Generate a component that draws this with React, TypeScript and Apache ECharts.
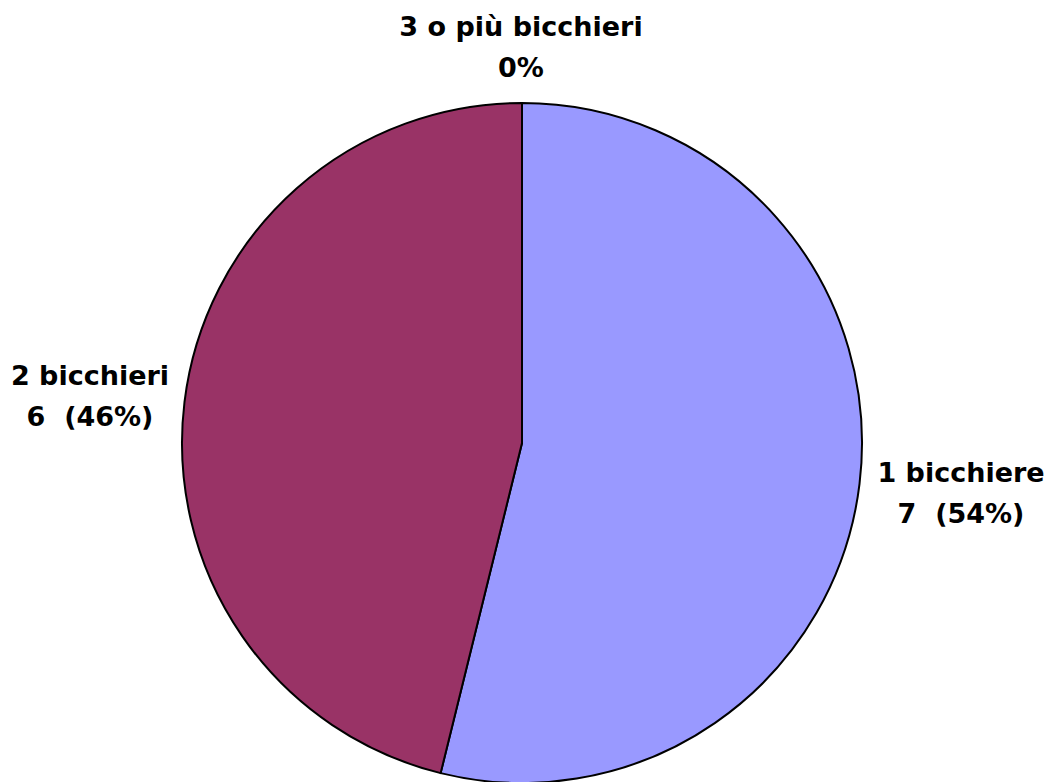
import React, { useEffect, useRef } from "react";
import * as echarts from "echarts";

const categories = ["1 bicchiere", "2 bicchieri", "3 o più bicchieri"];
const values = [7, 6, 0];
const colors = ["#9999FF", "#993366", "#FFFFCC"];

export default function App() {
  const ref = useRef<HTMLDivElement>(null);
  useEffect(() => {
    if (!ref.current) return;
    const chart = echarts.init(ref.current, undefined, { renderer: "svg" });
    const total = values.reduce((a, b) => a + b, 0);
    const labelPos = [
      { x: 961, y: 493 },
      { x: 90, y: 396 },
      { x: 521, y: 47 },
    ];
    chart.setOption({
      animation: false,
      backgroundColor: "#ffffff",
      series: [
        {
          type: "pie",
          center: [522, 443],
          radius: 340,
          startAngle: 90,
          clockwise: true,
          avoidLabelOverlap: false,
          data: categories.map((name, i) => ({
            name,
            value: values[i],
            itemStyle: { color: colors[i] },
          })),
          itemStyle: { borderColor: "#000000", borderWidth: 2 },
          label: {
            show: true,
            position: "outside",
            color: "#000000",
            fontFamily: "DejaVu Sans",
            fontWeight: "bold",
            fontSize: 27,
            lineHeight: 41,
            align: "center",
            formatter: (p: any) => {
              const pct = Math.round((p.value / total) * 100);
              return p.value === 0
                ? `${p.name}\n${pct}%`
                : `${p.name}\n${p.value}  (${pct}%)`;
            },
          },
          labelLine: { show: false },
          labelLayout: (params: any) => {
            const lp = labelPos[params.dataIndex];
            return { x: lp.x, y: lp.y, align: "center", verticalAlign: "middle" };
          },
          emphasis: { disabled: true },
        },
      ],
    });
    return () => chart.dispose();
  }, []);
  return (
    <div
      ref={ref}
      style={{ position: "fixed", left: 0, top: 0, width: 1050, height: 782 }}
    />
  );
}
